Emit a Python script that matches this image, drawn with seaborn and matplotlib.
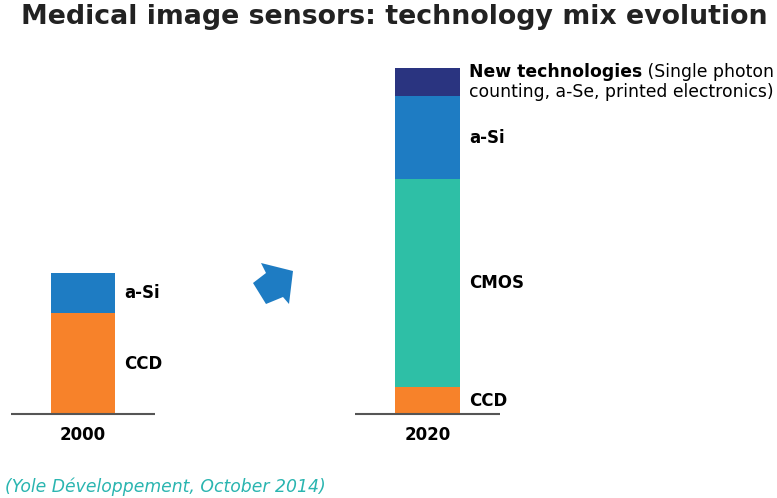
import matplotlib
matplotlib.use('Agg')
import matplotlib.pyplot as plt
import seaborn as sns
import pandas as pd
from matplotlib.patches import Polygon

years = ['2000', '2020']
layers = ['CCD', 'CMOS', 'a-Si', 'New technologies']
ccd = [101, 27]
cmos = [0, 208]
a_si = [40, 83]
new_tech = [0, 28]
colors = {'CCD': '#F7822A', 'CMOS': '#2EBFA6', 'a-Si': '#1E7CC3', 'New technologies': '#2A3480'}

df = pd.DataFrame({'year': years, 'CCD': ccd, 'CMOS': cmos, 'a-Si': a_si, 'New technologies': new_tech})
cum = df[layers].cumsum(axis=1)

sns.set_style('white')
plt.rcParams['font.family'] = ['DejaVu Sans']

fig = plt.figure(figsize=(7.77, 4.98), dpi=100)
ax = fig.add_axes([0, 0, 1, 1])

# stacked bars: draw cumulative totals from top layer down
for layer in layers[::-1]:
    sns.barplot(x=df['year'], y=cum[layer], color=colors[layer], width=0.186,
                saturation=1, linewidth=0, ax=ax, order=years)

ax.set_xlim(-0.241, 2.0145)
ax.set_ylim(-84, 414)
ax.axis('off')

for i, yr in enumerate(years):
    ax.hlines(0, i - 0.21, i + 0.21, color='#555555', lw=1.5, zorder=5)
    ax.text(i, -21, yr, ha='center', va='center', fontsize=12, fontweight='bold', color='black')

# segment labels
lx = 0.12
fs = 12.4
for i in range(len(years)):
    bottom = 0
    for layer in layers:
        h = df[layer][i]
        if h > 0:
            mid = bottom + h / 2
            if layer == 'New technologies':
                t1 = ax.text(i + lx, mid + 10, 'New technologies', ha='left', va='center',
                             fontsize=fs, fontweight='bold', color='black')
                ax.annotate(' (Single photon', xy=(1, 0), xycoords=t1, ha='left', va='bottom',
                            fontsize=fs, color='black')
                ax.text(i + lx, mid - 10, 'counting, a-Se, printed electronics)', ha='left',
                        va='center', fontsize=fs, color='black')
            else:
                ax.text(i + lx, mid, layer, ha='left', va='center', fontsize=12,
                        fontweight='bold', color='black')
        bottom += h

# growth arrow between the bars
arrow_px = [(261, 263), (293, 271), (289, 304), (283, 297), (266, 304), (253, 283), (266, 273)]
W, H = 777, 498
arrow = Polygon([(x / W, 1 - y / H) for x, y in arrow_px], closed=True,
                transform=fig.transFigure, facecolor='#1E7CC3', edgecolor='none')
fig.patches.append(arrow)

fig.text(0.507, 0.966, 'Medical image sensors: technology mix evolution', ha='center', va='center',
         fontsize=19.3, fontweight='bold', color='#222222')
fig.text(0.006, 0.022, '(Yole Développement, October 2014)', ha='left', va='center',
         fontsize=12.4, style='italic', color='#2AB5B0')

fig.savefig('out.png', dpi=100)
